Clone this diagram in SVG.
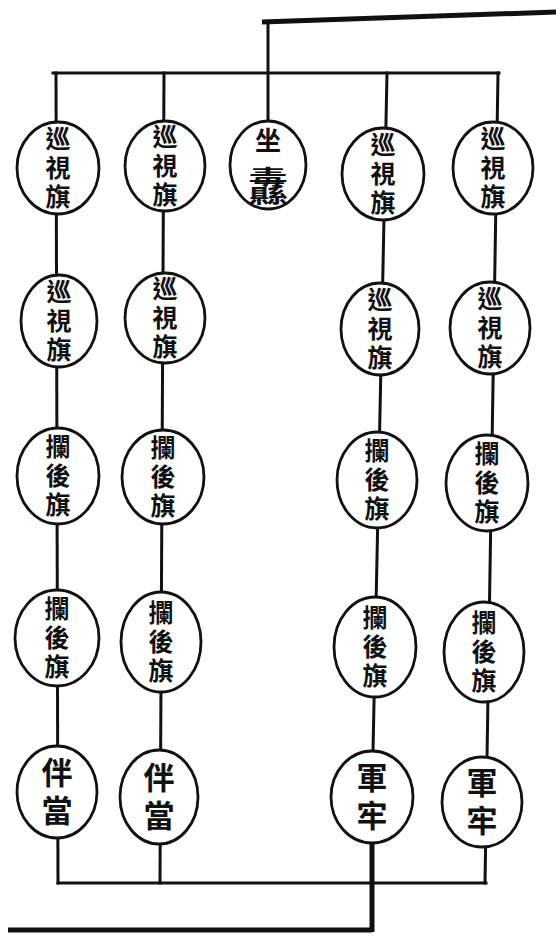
<svg xmlns="http://www.w3.org/2000/svg" width="556" height="940" viewBox="0 0 556 940">
<style>
.ln{fill:none;stroke:#111;stroke-width:3;stroke-linecap:square}
.thick{fill:none;stroke:#111;stroke-width:5}
.nd{fill:#fff;stroke:#111;stroke-width:2.8}
.tx{font-family:"Liberation Sans","Noto Sans CJK TC","Noto Sans CJK SC",sans-serif;font-size:25px;font-weight:bold;fill:#111;text-anchor:middle}
.tx2{font-family:"Liberation Sans","Noto Sans CJK TC","Noto Sans CJK SC",sans-serif;font-size:31px;font-weight:bold;fill:#111;text-anchor:middle}
</style>
<rect width="556" height="940" fill="#fff"/>
<g id="connectors">
<path class="thick" d="M262,22 L556,12"/>
<path class="ln" d="M268,22 V130"/>
<path class="ln" d="M53,73 H499"/>
<path class="ln" d="M56,73 L58,883"/>
<path class="ln" d="M164,73 L160,883"/>
<path class="ln" d="M387,73 L372,800"/>
<path class="thick" d="M372,800 V932"/>
<path class="ln" d="M498,73 L485,883"/>
<path class="ln" d="M58,883 H486"/>
<path class="thick" d="M8,930 H372"/>
</g>
<g id="n1"><ellipse class="nd" cx="58" cy="168" rx="41" ry="46"/><text class="tx" x="58" y="168"><tspan x="58" dy="-20">巡</tspan><tspan x="58" dy="29">視</tspan><tspan x="58" dy="29">旗</tspan></text></g>
<g id="n2"><ellipse class="nd" cx="165" cy="166" rx="40" ry="45"/><text class="tx" x="165" y="166"><tspan x="165" dy="-20">巡</tspan><tspan x="165" dy="29">視</tspan><tspan x="165" dy="29">旗</tspan></text></g>
<g id="n3"><ellipse class="nd" cx="268" cy="165" rx="38" ry="44"/><text class="tx" x="268" y="150" style="font-size:26px">坐</text><text class="tx" x="268" y="201" style="font-size:40px">纛</text></g>
<g id="n4"><ellipse class="nd" cx="383" cy="174" rx="41" ry="46"/><text class="tx" x="383" y="174"><tspan x="383" dy="-20">巡</tspan><tspan x="383" dy="29">視</tspan><tspan x="383" dy="29">旗</tspan></text></g>
<g id="n5"><ellipse class="nd" cx="493" cy="168" rx="40" ry="46"/><text class="tx" x="493" y="168"><tspan x="493" dy="-20">巡</tspan><tspan x="493" dy="29">視</tspan><tspan x="493" dy="29">旗</tspan></text></g>
<g id="n6"><ellipse class="nd" cx="59" cy="321" rx="38" ry="46"/><text class="tx" x="59" y="321"><tspan x="59" dy="-20">巡</tspan><tspan x="59" dy="29">視</tspan><tspan x="59" dy="29">旗</tspan></text></g>
<g id="n7"><ellipse class="nd" cx="165" cy="318" rx="40" ry="45"/><text class="tx" x="165" y="318"><tspan x="165" dy="-20">巡</tspan><tspan x="165" dy="29">視</tspan><tspan x="165" dy="29">旗</tspan></text></g>
<g id="n8"><ellipse class="nd" cx="380" cy="329" rx="39" ry="46"/><text class="tx" x="380" y="329"><tspan x="380" dy="-20">巡</tspan><tspan x="380" dy="29">視</tspan><tspan x="380" dy="29">旗</tspan></text></g>
<g id="n9"><ellipse class="nd" cx="490" cy="328" rx="40" ry="46"/><text class="tx" x="490" y="328"><tspan x="490" dy="-20">巡</tspan><tspan x="490" dy="29">視</tspan><tspan x="490" dy="29">旗</tspan></text></g>
<g id="n10"><ellipse class="nd" cx="58" cy="476" rx="41" ry="48"/><text class="tx" x="58" y="476"><tspan x="58" dy="-20">攔</tspan><tspan x="58" dy="29">後</tspan><tspan x="58" dy="29">旗</tspan></text></g>
<g id="n11"><ellipse class="nd" cx="163" cy="477" rx="41" ry="47"/><text class="tx" x="163" y="477"><tspan x="163" dy="-20">攔</tspan><tspan x="163" dy="29">後</tspan><tspan x="163" dy="29">旗</tspan></text></g>
<g id="n12"><ellipse class="nd" cx="377" cy="480" rx="40" ry="48"/><text class="tx" x="377" y="480"><tspan x="377" dy="-20">攔</tspan><tspan x="377" dy="29">後</tspan><tspan x="377" dy="29">旗</tspan></text></g>
<g id="n13"><ellipse class="nd" cx="487" cy="483" rx="41" ry="48"/><text class="tx" x="487" y="483"><tspan x="487" dy="-20">攔</tspan><tspan x="487" dy="29">後</tspan><tspan x="487" dy="29">旗</tspan></text></g>
<g id="n14"><ellipse class="nd" cx="57" cy="638" rx="42" ry="48"/><text class="tx" x="57" y="638"><tspan x="57" dy="-20">攔</tspan><tspan x="57" dy="29">後</tspan><tspan x="57" dy="29">旗</tspan></text></g>
<g id="n15"><ellipse class="nd" cx="161" cy="642" rx="40" ry="50"/><text class="tx" x="161" y="642"><tspan x="161" dy="-20">攔</tspan><tspan x="161" dy="29">後</tspan><tspan x="161" dy="29">旗</tspan></text></g>
<g id="n16"><ellipse class="nd" cx="375" cy="647" rx="41" ry="50"/><text class="tx" x="375" y="647"><tspan x="375" dy="-20">攔</tspan><tspan x="375" dy="29">後</tspan><tspan x="375" dy="29">旗</tspan></text></g>
<g id="n17"><ellipse class="nd" cx="484" cy="652" rx="40" ry="50"/><text class="tx" x="484" y="652"><tspan x="484" dy="-20">攔</tspan><tspan x="484" dy="29">後</tspan><tspan x="484" dy="29">旗</tspan></text></g>
<g id="n18"><ellipse class="nd" cx="57" cy="792" rx="40" ry="46"/><text class="tx2" x="57" y="792"><tspan x="57" dy="-8">伴</tspan><tspan x="57" dy="38">當</tspan></text></g>
<g id="n19"><ellipse class="nd" cx="159" cy="797" rx="39" ry="47"/><text class="tx2" x="159" y="797"><tspan x="159" dy="-8">伴</tspan><tspan x="159" dy="38">當</tspan></text></g>
<g id="n20"><ellipse class="nd" cx="372" cy="797" rx="41" ry="46"/><text class="tx2" x="372" y="797"><tspan x="372" dy="-8">軍</tspan><tspan x="372" dy="38">牢</tspan></text></g>
<g id="n21"><ellipse class="nd" cx="482" cy="802" rx="40" ry="45"/><text class="tx2" x="482" y="802"><tspan x="482" dy="-8">軍</tspan><tspan x="482" dy="38">牢</tspan></text></g>
</svg>
